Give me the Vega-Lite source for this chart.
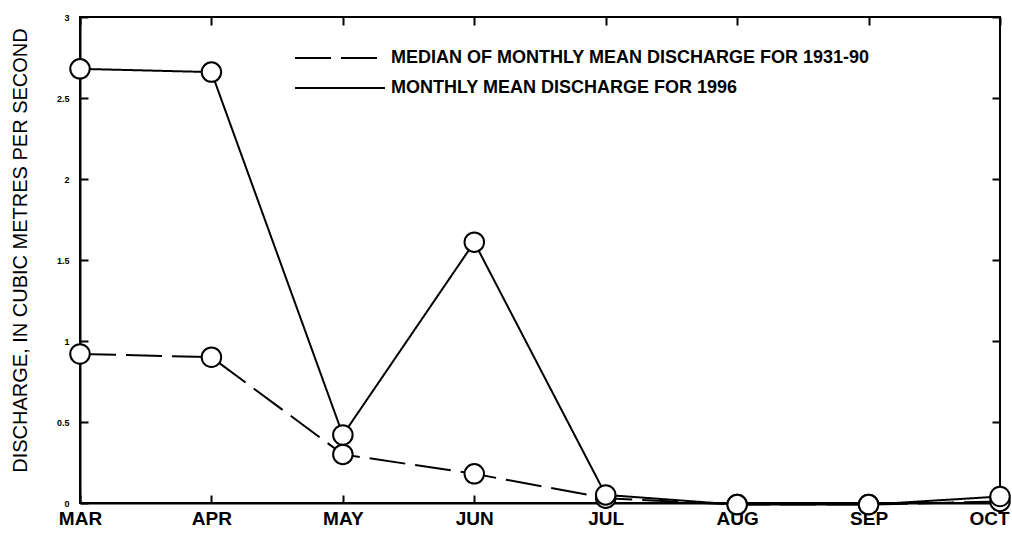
{
  "$schema": "https://vega.github.io/schema/vega-lite/v6.json",
  "width": 920,
  "height": 486,
  "autosize": "none",
  "padding": {"left": 80, "top": 17, "right": 12, "bottom": 42},
  "background": "white",
  "config": {
    "font": "Liberation Sans",
    "view": {"stroke": "black", "strokeWidth": 2},
    "axis": {"domainColor": "black", "domainWidth": 2, "tickColor": "black", "tickWidth": 2, "labelColor": "black", "titleColor": "black", "grid": false}
  },
  "data": {
    "values": [
      {"month": "MAR", "series": "MEDIAN OF MONTHLY MEAN DISCHARGE FOR 1931-90", "q": 0.92},
      {"month": "APR", "series": "MEDIAN OF MONTHLY MEAN DISCHARGE FOR 1931-90", "q": 0.90},
      {"month": "MAY", "series": "MEDIAN OF MONTHLY MEAN DISCHARGE FOR 1931-90", "q": 0.30},
      {"month": "JUN", "series": "MEDIAN OF MONTHLY MEAN DISCHARGE FOR 1931-90", "q": 0.18},
      {"month": "JUL", "series": "MEDIAN OF MONTHLY MEAN DISCHARGE FOR 1931-90", "q": 0.03},
      {"month": "AUG", "series": "MEDIAN OF MONTHLY MEAN DISCHARGE FOR 1931-90", "q": -0.01},
      {"month": "SEP", "series": "MEDIAN OF MONTHLY MEAN DISCHARGE FOR 1931-90", "q": -0.01},
      {"month": "OCT", "series": "MEDIAN OF MONTHLY MEAN DISCHARGE FOR 1931-90", "q": 0.01},
      {"month": "MAR", "series": "MONTHLY MEAN DISCHARGE FOR 1996", "q": 2.68},
      {"month": "APR", "series": "MONTHLY MEAN DISCHARGE FOR 1996", "q": 2.66},
      {"month": "MAY", "series": "MONTHLY MEAN DISCHARGE FOR 1996", "q": 0.42},
      {"month": "JUN", "series": "MONTHLY MEAN DISCHARGE FOR 1996", "q": 1.61},
      {"month": "JUL", "series": "MONTHLY MEAN DISCHARGE FOR 1996", "q": 0.05},
      {"month": "AUG", "series": "MONTHLY MEAN DISCHARGE FOR 1996", "q": -0.01},
      {"month": "SEP", "series": "MONTHLY MEAN DISCHARGE FOR 1996", "q": -0.01},
      {"month": "OCT", "series": "MONTHLY MEAN DISCHARGE FOR 1996", "q": 0.04}
    ]
  },
  "layer": [
    {
      "mark": {"type": "line", "color": "black", "strokeWidth": 2},
      "encoding": {
        "x": {"field": "month", "type": "ordinal", "sort": ["MAR","APR","MAY","JUN","JUL","AUG","SEP","OCT"],
              "scale": {"type": "point", "padding": 0},
              "axis": {"orient": "bottom", "title": null, "labelAngle": 0, "tickSize": -8, "labelPadding": 14,
                       "labelFontSize": 19, "labelFontWeight": "bold", "labelFlush": false,
                       "labelOffset": {"condition": {"test": "datum.label == 'OCT'", "value": -11}, "value": 0}}},
        "y": {"field": "q", "type": "quantitative", "scale": {"domain": [0, 3], "nice": false},
              "axis": {"orient": "left", "values": [0, 0.5, 1, 1.5, 2, 2.5, 3], "format": "~g", "tickSize": -8, "labelPadding": 19,
                       "labelFontSize": 9, "labelFontWeight": "bold", "labelFlush": false,
                       "title": "DISCHARGE, IN CUBIC METRES PER SECOND", "titleFontSize": 20, "titleFontWeight": "normal",
                       "titleAngle": -90, "titleX": -60, "titleY": 233, "titleAlign": "center", "titleBaseline": "middle"}},
        "strokeDash": {"field": "series", "type": "nominal",
              "scale": {"domain": ["MEDIAN OF MONTHLY MEAN DISCHARGE FOR 1931-90", "MONTHLY MEAN DISCHARGE FOR 1996"], "range": [[36, 10], [1, 0]]},
              "legend": {"orient": "none", "legendX": 250, "legendY": 31, "padding": 0, "title": null, "symbolType": "M-5,0H5",
                         "symbolSize": 324, "symbolStrokeWidth": 2, "symbolStrokeColor": "black", "labelFontSize": 18,
                         "labelFontWeight": "bold", "labelColor": "black", "rowPadding": 11, "labelLimit": 700, "labelOffset": 41}}
      }
    },
    {
      "mark": {"type": "point", "shape": "circle", "filled": true, "fill": "white", "stroke": "black", "strokeWidth": 2, "size": 380, "opacity": 1},
      "encoding": {
        "x": {"field": "month", "type": "ordinal", "sort": ["MAR","APR","MAY","JUN","JUL","AUG","SEP","OCT"],
              "axis": {"orient": "top", "title": null, "labels": false, "tickSize": -8, "domain": false}},
        "y": {"field": "q", "type": "quantitative",
              "axis": {"orient": "right", "title": null, "labels": false, "values": [0, 0.5, 1, 1.5, 2, 2.5, 3], "tickSize": -8, "domain": false}}
      }
    }
  ],
  "resolve": {"axis": {"x": "independent", "y": "independent"}}
}
